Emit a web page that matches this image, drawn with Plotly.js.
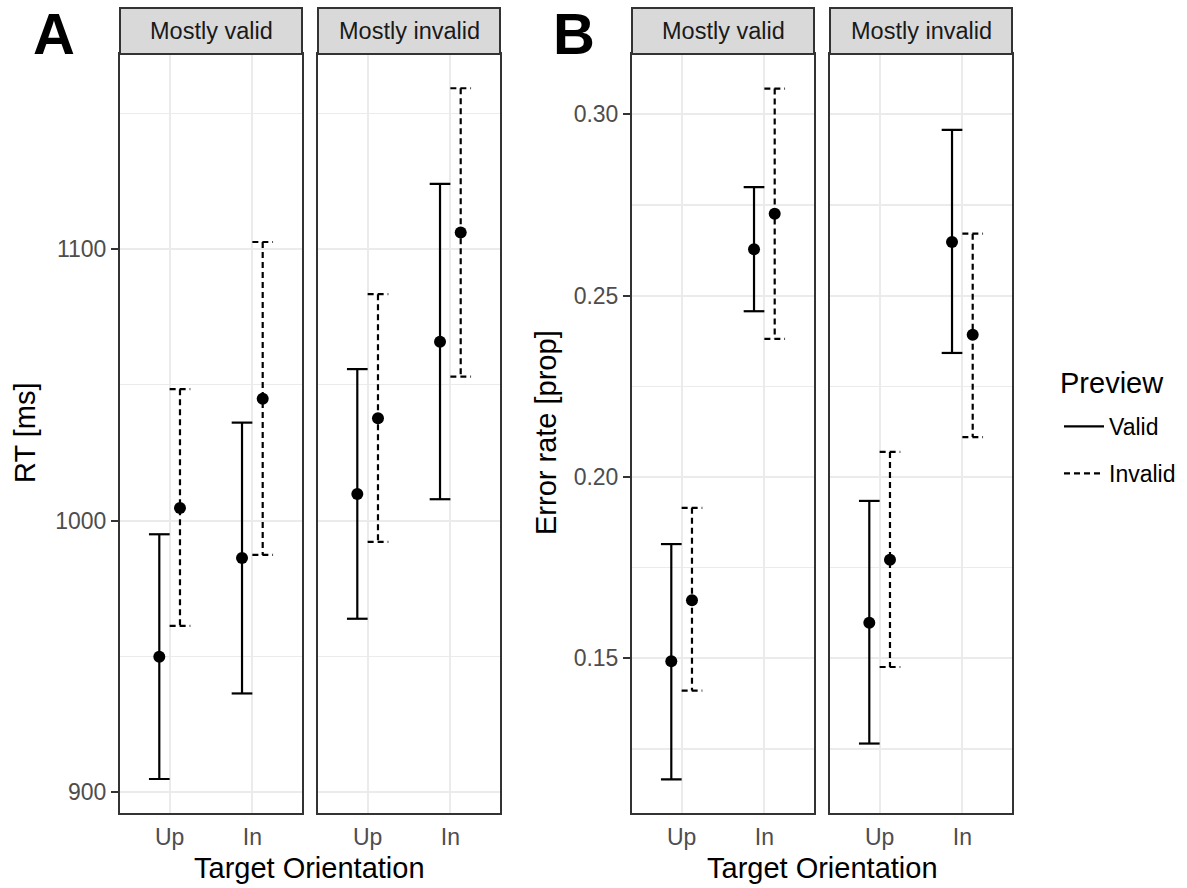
<!DOCTYPE html>
<html>
<head>
<meta charset="utf-8">
<script src="https://cdn.plot.ly/plotly-3.0.1.min.js"></script>
<style>
html, body { margin: 0; padding: 0; background: #ffffff; }
#chart { width: 1187px; height: 888px; }
</style>
</head>
<body>
<div id="chart"></div>
<script>
// ---------------- data ----------------
const orientations = ['Up', 'In'];
const previews = ['Valid', 'Invalid'];
const facets = ['Mostly valid', 'Mostly invalid'];

// Panel A: RT [ms]
const rtMostlyValidValidMean    = [949.9, 986.3];
const rtMostlyValidValidLow     = [904.9, 936.4];
const rtMostlyValidValidHigh    = [995.0, 1036.1];
const rtMostlyValidInvalidMean  = [1004.7, 1044.9];
const rtMostlyValidInvalidLow   = [961.3, 987.4];
const rtMostlyValidInvalidHigh  = [1048.4, 1102.6];
const rtMostlyInvalidValidMean  = [1009.8, 1065.9];
const rtMostlyInvalidValidLow   = [963.9, 1007.9];
const rtMostlyInvalidValidHigh  = [1055.8, 1124.0];
const rtMostlyInvalidInvalidMean = [1037.7, 1106.1];
const rtMostlyInvalidInvalidLow  = [992.2, 1053.0];
const rtMostlyInvalidInvalidHigh = [1083.4, 1159.2];

// Panel B: Error rate [prop]
const erMostlyValidValidMean    = [0.1492, 0.2628];
const erMostlyValidValidLow     = [0.1166, 0.2457];
const erMostlyValidValidHigh    = [0.1815, 0.2799];
const erMostlyValidInvalidMean  = [0.1660, 0.2726];
const erMostlyValidInvalidLow   = [0.1411, 0.2381];
const erMostlyValidInvalidHigh  = [0.1915, 0.3071];
const erMostlyInvalidValidMean  = [0.1598, 0.2648];
const erMostlyInvalidValidLow   = [0.1265, 0.2342];
const erMostlyInvalidValidHigh  = [0.1934, 0.2957];
const erMostlyInvalidInvalidMean = [0.1772, 0.2392];
const erMostlyInvalidInvalidLow  = [0.1476, 0.2110];
const erMostlyInvalidInvalidHigh = [0.2069, 0.2671];

// ---------------- styling ----------------
const FONT = 'Liberation Sans, Arial, Helvetica, sans-serif';
const W = 1187, H = 888;
const px = v => v / W;           // horizontal pixel -> paper
const py = v => 1 - v / H;       // vertical pixel -> paper
const DODGE = 0.125;             // position_dodge half width (category units)
const CAP = 0.125;               // errorbar half width (category units)
const dashStyle = { Valid: 'solid', Invalid: '6px,4px' };

const groups = [
  // panel A
  { xa: 'x',  ya: 'y',  facet: 0, series: {
      Valid:   [rtMostlyValidValidMean, rtMostlyValidValidLow, rtMostlyValidValidHigh],
      Invalid: [rtMostlyValidInvalidMean, rtMostlyValidInvalidLow, rtMostlyValidInvalidHigh] } },
  { xa: 'x2', ya: 'y2', facet: 1, series: {
      Valid:   [rtMostlyInvalidValidMean, rtMostlyInvalidValidLow, rtMostlyInvalidValidHigh],
      Invalid: [rtMostlyInvalidInvalidMean, rtMostlyInvalidInvalidLow, rtMostlyInvalidInvalidHigh] } },
  // panel B
  { xa: 'x3', ya: 'y3', facet: 0, series: {
      Valid:   [erMostlyValidValidMean, erMostlyValidValidLow, erMostlyValidValidHigh],
      Invalid: [erMostlyValidInvalidMean, erMostlyValidInvalidLow, erMostlyValidInvalidHigh] } },
  { xa: 'x4', ya: 'y4', facet: 1, series: {
      Valid:   [erMostlyInvalidValidMean, erMostlyInvalidValidLow, erMostlyInvalidValidHigh],
      Invalid: [erMostlyInvalidInvalidMean, erMostlyInvalidInvalidLow, erMostlyInvalidInvalidHigh] } }
];

const data = [];
groups.forEach((g, gi) => {
  previews.forEach((p, pi) => {
    const [mean, low, high] = g.series[p];
    const off = pi === 0 ? -DODGE : DODGE;
    const ex = [], ey = [], mx = [];
    orientations.forEach((o, oi) => {
      const xc = oi + 1 + off;
      mx.push(xc);
      // top cap, vertical, bottom cap (like geom_errorbar)
      ex.push(xc - CAP, xc + CAP, null, xc, xc, null, xc - CAP, xc + CAP, null);
      ey.push(high[oi], high[oi], null, high[oi], low[oi], null, low[oi], low[oi], null);
    });
    data.push({
      type: 'scatter', mode: 'lines', x: ex, y: ey, xaxis: g.xa, yaxis: g.ya,
      name: p, legendgroup: p, showlegend: gi === 0,
      line: { color: '#000000', width: 2.2, dash: dashStyle[p] },
      hoverinfo: 'skip', connectgaps: false
    });
    data.push({
      type: 'scatter', mode: 'markers', x: mx, y: mean, xaxis: g.xa, yaxis: g.ya,
      name: p, legendgroup: p, showlegend: false,
      marker: { color: '#000000', size: 12 }
    });
  });
});

// ---------------- axes ----------------
const facetPx = [[120, 302], [318, 500], [632, 814], [830, 1012]];
const yDomain = [py(812.7), py(54)];
const TICK_SIZE = 23;

function xAxis(i, anchor) {
  return {
    domain: [px(facetPx[i][0]), px(facetPx[i][1])],
    anchor: anchor,
    range: [0.4, 2.6],
    tickmode: 'array', tickvals: [1, 2], ticktext: orientations,
    ticks: '', showgrid: true, gridcolor: '#EBEBEB', gridwidth: 2.2,
    zeroline: false, showline: true, mirror: true, linecolor: '#333333', linewidth: 2,
    tickfont: { family: FONT, size: TICK_SIZE, color: '#4D4D4D' },
    ticklabelstandoff: 3,
    fixedrange: true
  };
}
function yAxis(anchor, range, dtick, minorDtick, fmt, labels) {
  return {
    domain: yDomain, anchor: anchor, range: range,
    tick0: 0, dtick: dtick, tickformat: fmt,
    showticklabels: labels,
    ticks: labels ? 'outside' : '', ticklen: 7, tickwidth: 2, tickcolor: '#333333',
    showgrid: true, gridcolor: '#EBEBEB', gridwidth: 2.2,
    minor: { dtick: minorDtick, showgrid: true, gridcolor: '#EBEBEB', gridwidth: 1.1 },
    zeroline: false, showline: true, mirror: true, linecolor: '#333333', linewidth: 2,
    tickfont: { family: FONT, size: TICK_SIZE, color: '#4D4D4D' },
    fixedrange: true
  };
}

const rangeA = [892.5, 1171.8];
const rangeB = [0.10743, 0.31663];

// ---------------- strips, titles ----------------
const shapes = [];
const annotations = [];
['x', 'x2', 'x3', 'x4'].forEach((xa, i) => {
  shapes.push({
    type: 'rect', xref: xa + ' domain', yref: 'paper',
    x0: 0, x1: 1, y0: py(54), y1: py(8),
    fillcolor: '#D9D9D9', line: { color: '#333333', width: 2 }, layer: 'above'
  });
  annotations.push({
    xref: xa + ' domain', yref: 'paper', x: 0.5, y: py(31),
    xanchor: 'center', yanchor: 'middle', showarrow: false,
    text: facets[i % 2], font: { family: FONT, size: 23.5, color: '#1A1A1A' }
  });
});

const titleFont = { family: FONT, size: 29, color: '#000000' };
const labelFont = { family: 'Liberation Sans, Arial, sans-serif', size: 58, color: '#000000', weight: 700 };
annotations.push(
  { xref: 'paper', yref: 'paper', x: px(310), y: py(868), xanchor: 'center', yanchor: 'middle',
    showarrow: false, text: 'Target Orientation', font: titleFont },
  { xref: 'paper', yref: 'paper', x: px(822), y: py(868), xanchor: 'center', yanchor: 'middle',
    showarrow: false, text: 'Target Orientation', font: titleFont },
  { xref: 'paper', yref: 'paper', x: px(25), y: py(433), xanchor: 'center', yanchor: 'middle',
    showarrow: false, text: 'RT [ms]', textangle: -90, font: titleFont },
  { xref: 'paper', yref: 'paper', x: px(546), y: py(433), xanchor: 'center', yanchor: 'middle',
    showarrow: false, text: 'Error rate [prop]', textangle: -90, font: titleFont },
  { xref: 'paper', yref: 'paper', x: px(54), y: 1, xanchor: 'center', yanchor: 'top',
    showarrow: false, text: '<b>A</b>', font: labelFont, borderpad: 0 },
  { xref: 'paper', yref: 'paper', x: px(574), y: 1, xanchor: 'center', yanchor: 'top',
    showarrow: false, text: '<b>B</b>', font: labelFont, borderpad: 0 },
  // legend title
  { xref: 'paper', yref: 'paper', x: px(1058), y: py(383), xanchor: 'left', yanchor: 'middle',
    showarrow: false, text: 'Preview', font: titleFont }
);

const layout = {
  width: W, height: H,
  margin: { l: 0, r: 0, t: 0, b: 0, pad: 0 },
  paper_bgcolor: '#FFFFFF', plot_bgcolor: '#FFFFFF',
  font: { family: FONT, color: '#000000' },
  showlegend: true,
  legend: {
    x: px(1059), y: py(405), xanchor: 'left', yanchor: 'top',
    font: { family: FONT, size: 23, color: '#000000' },
    bgcolor: 'rgba(0,0,0,0)', tracegroupgap: 14, itemwidth: 40
  },
  xaxis: xAxis(0, 'y'),
  xaxis2: xAxis(1, 'y2'),
  xaxis3: xAxis(2, 'y3'),
  xaxis4: xAxis(3, 'y4'),
  yaxis: yAxis('x', rangeA, 100, 50, 'd', true),
  yaxis2: yAxis('x2', rangeA, 100, 50, 'd', false),
  yaxis3: yAxis('x3', rangeB, 0.05, 0.025, '.2f', true),
  yaxis4: yAxis('x4', rangeB, 0.05, 0.025, '.2f', false),
  shapes: shapes,
  annotations: annotations
};

Plotly.newPlot('chart', data, layout, { displayModeBar: false, staticPlot: true });
</script>
</body>
</html>
